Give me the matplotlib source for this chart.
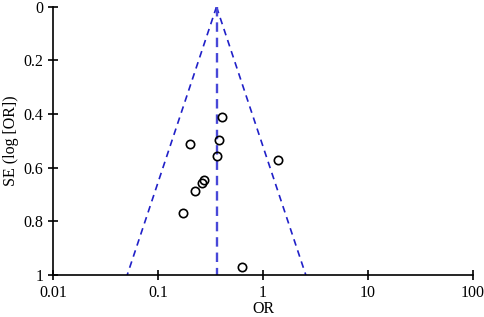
import numpy as np
import matplotlib
matplotlib.use("Agg")
import matplotlib.pyplot as plt
from matplotlib.ticker import FixedLocator, FixedFormatter

# study estimates
odds_ratio = [0.404, 0.384, 0.202, 0.362, 1.38, 0.276, 0.262, 0.224, 0.174, 0.627]
se_log_or = [0.41, 0.497, 0.513, 0.556, 0.570, 0.646, 0.656, 0.688, 0.768, 0.971]
pooled_or = 0.36
x_ticks = [0.01, 0.1, 1, 10, 100]
x_tick_labels = ["0.01", "0.1", "1", "10", "100"]
y_ticks = [0, 0.2, 0.4, 0.6, 0.8, 1]
y_tick_labels = ["0", "0.2", "0.4", "0.6", "0.8", "1"]

plt.rcParams["font.family"] = "Liberation Serif"
plt.rcParams["font.size"] = 11

fig = plt.figure(figsize=(4.84, 3.17), dpi=100)
ax = fig.add_axes([0.110, 0.1325, 0.867, 0.846])

# pseudo 95% confidence limits
se_line = np.array([0.0, 1.0])
lower = pooled_or * np.exp(-1.96 * se_line)
upper = pooled_or * np.exp(1.96 * se_line)
ax.plot(lower, se_line, color="#2020c8", linestyle=(0, (4, 3)), linewidth=1.2)
ax.plot(upper, se_line, color="#2020c8", linestyle=(0, (4, 3)), linewidth=1.2)
ax.plot([pooled_or, pooled_or], [0, 1], color="#4848d8",
        linestyle=(0, (4, 2.5)), linewidth=1.7)

ax.plot(odds_ratio, se_log_or, linestyle="none", marker="o", markersize=6,
        markerfacecolor="none", markeredgecolor="black", markeredgewidth=1.2)

ax.set_xscale("log")
ax.set_xlim(0.01, 100)
ax.set_ylim(1, 0)
ax.xaxis.set_major_locator(FixedLocator(x_ticks))
ax.xaxis.set_major_formatter(FixedFormatter(x_tick_labels))
ax.xaxis.set_minor_locator(FixedLocator([]))
ax.yaxis.set_major_locator(FixedLocator(y_ticks))
ax.yaxis.set_major_formatter(FixedFormatter(y_tick_labels))

for side in ["top", "right"]:
    ax.spines[side].set_visible(False)
for side in ["left", "bottom"]:
    ax.spines[side].set_linewidth(1.2)
ax.tick_params(direction="inout", length=7, width=1.2, labelsize=11.5)
ax.spines["left"].set_clip_on(False)
ax.spines["bottom"].set_clip_on(False)

ax.set_xlabel("OR", fontsize=11.5, labelpad=0)
ax.set_ylabel("SE (log [OR])", fontsize=11.5, labelpad=3)

fig.savefig("out.png", dpi=100)
